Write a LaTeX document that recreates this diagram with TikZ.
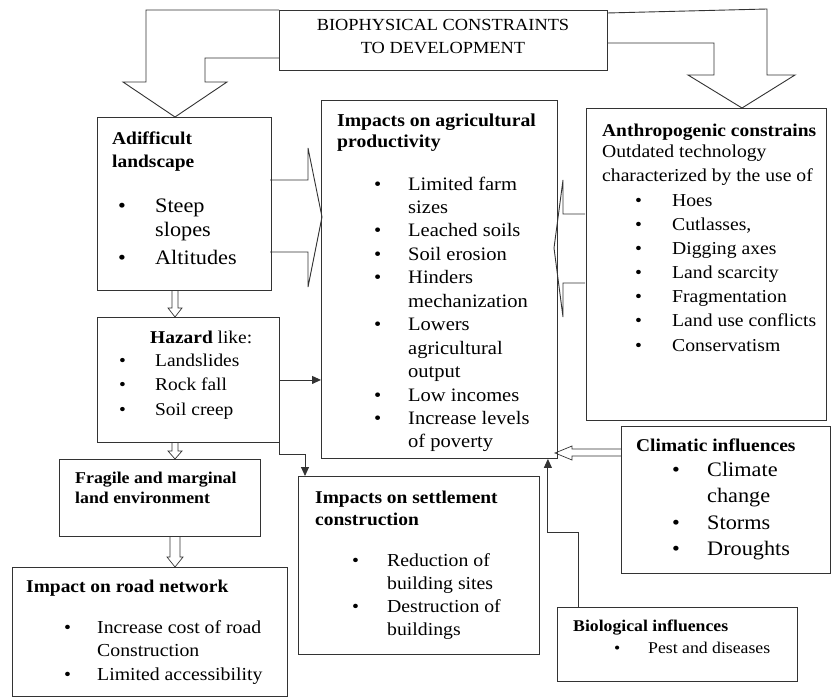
\documentclass[tikz,border=0pt]{standalone}
\usepackage{fontspec}
\setmainfont{Liberation Serif}[FakeStretch=1.08]
\usetikzlibrary{arrows.meta}
\tikzset{
  box/.style={draw=black!80, line width=0.9pt, anchor=north west, inner sep=0pt},
  blk/.style={draw=black!80, line width=0.9pt, fill=white, line join=miter},
  conn/.style={draw=black!80, line width=0.9pt, -{Triangle[length=9pt,width=8pt]}},
  txt/.style={inner sep=0pt, anchor=base west},
  reg/.style={font=\fontsize{#1}{#1}\selectfont},
}
\newcommand\bx[5]{\node[box, minimum width=#4pt, minimum height=#5pt] (#1) at (#2,#3) {};}
\begin{document}
\begin{tikzpicture}[x=1pt,y=-1pt]
\useasboundingbox (0,0) rectangle (833,698);

% ---- block arrows (drawn first, under the boxes)
\draw[blk] (279,10) -- (146,10) -- (146,82) -- (123,82) -- (175,117) -- (227,82) -- (205,82) -- (205,58) -- (279,58);
\draw[blk] (607,13) -- (767,9) -- (767,75) -- (795,75) -- (742,108) -- (688,75) -- (714,75) -- (714,43) -- (607,43);
\draw[blk] (270,180) -- (308,180) -- (308,148) -- (322,217) -- (308,287) -- (308,252) -- (270,252);
\draw[blk] (585,214) -- (563,214) -- (563,180) -- (554,248) -- (563,317) -- (563,283) -- (585,283);
% small hollow arrows
\draw[blk, line width=0.7pt] (172,290) -- (172,308) -- (168,308) -- (175,317) -- (182,308) -- (178,308) -- (178,290);
\draw[blk, line width=0.7pt] (172,442) -- (172,451) -- (168,451) -- (175,459) -- (182,451) -- (178,451) -- (178,442);
\draw[blk, line width=0.7pt] (170,536) -- (170,557) -- (167,557) -- (175,567) -- (183,557) -- (180,557) -- (180,536);
\draw[blk, line width=0.7pt] (621,449) -- (572,449) -- (572,446) -- (555,453) -- (572,460) -- (572,456) -- (621,456);

% ---- boxes
\bx{top}{279}{10}{328}{60}
\bx{land}{97}{117}{174}{173}
\bx{impacts}{321}{100}{236}{358}
\bx{anthro}{586}{108}{240}{312}
\bx{hazard}{97}{317}{182}{125}
\bx{fragile}{59}{459}{201}{77}
\bx{settle}{298}{476}{241}{178}
\bx{road}{12}{567}{275}{129}
\bx{climatic}{621}{426}{209}{147}
\bx{bio}{557}{607}{240}{74}

% ---- line connectors
\draw[conn] (hazard.east) -- (hazard.east -| impacts.west);
\draw[conn] (hazard.south east) -- ++(0,12) -| ([xshift=7pt]settle.north west);
\draw[conn] ([xshift=21pt]bio.north west) -- ++(0,-75) -| ([xshift=-10pt]impacts.south east);

% ---- texts
\node[inner sep=0pt, anchor=base, font=\fontsize{17}{23}\selectfont] (topT) at (443,31)
  {\begin{tabular}[t]{@{}c@{}}BIOPHYSICAL CONSTRAINTS\\TO DEVELOPMENT\end{tabular}};

\node[txt, font=\bfseries\fontsize{18}{23}\selectfont] (landT) at (112,145)
  {\begin{tabular}[t]{@{}l@{}}Adifficult\\landscape\end{tabular}};
\node[txt, font=\fontsize{20.6}{24.5}\selectfont] (landL) at (118,212)
  {\begin{tabular}[t]{@{}p{37pt}@{}l@{}}\textbullet&Steep\\&slopes\\[3pt]\textbullet&Altitudes\end{tabular}};

\node[txt, font=\fontsize{18}{24.5}\selectfont] (hazT) at (150,343) {{\bfseries Hazard} like:};
\node[txt, font=\fontsize{18}{24.5}\selectfont] (hazL) at (119,366)
  {\begin{tabular}[t]{@{}p{36pt}@{}l@{}}\textbullet&Landslides\\\textbullet&Rock fall\\\textbullet&Soil creep\end{tabular}};

\node[txt, font=\bfseries\fontsize{16.5}{20}\selectfont] (fragT) at (75,483)
  {\begin{tabular}[t]{@{}l@{}}Fragile and marginal\\land environment\end{tabular}};

\node[txt, font=\bfseries\fontsize{18}{23}\selectfont] (roadT) at (26,592) {Impact on road network};
\node[txt, font=\fontsize{18.3}{23}\selectfont] (roadL) at (64,633)
  {\begin{tabular}[t]{@{}p{33pt}@{}l@{}}\textbullet&Increase cost of road\\&Construction\\[1pt]\textbullet&Limited accessibility\end{tabular}};

\node[txt, font=\bfseries\fontsize{18.2}{21}\selectfont] (impT) at (337,127)
  {\begin{tabular}[t]{@{}l@{}}Impacts on agricultural\\productivity\end{tabular}};
\node[txt, font=\fontsize{19}{23.45}\selectfont] (impL) at (374,190)
  {\begin{tabular}[t]{@{}p{34pt}@{}l@{}}\textbullet&Limited farm\\&sizes\\\textbullet&Leached soils\\\textbullet&Soil erosion\\\textbullet&Hinders\\&mechanization\\\textbullet&Lowers\\&agricultural\\&output\\\textbullet&Low incomes\\\textbullet&Increase levels\\&of poverty\end{tabular}};

\node[txt, font=\bfseries\fontsize{18}{22}\selectfont] (setT) at (315,503)
  {\begin{tabular}[t]{@{}l@{}}Impacts on settlement\\construction\end{tabular}};
\node[txt, font=\fontsize{18.3}{23}\selectfont] (setL) at (352,566)
  {\begin{tabular}[t]{@{}p{35pt}@{}l@{}}\textbullet&Reduction of\\&building sites\\\textbullet&Destruction of\\&buildings\end{tabular}};

\node[txt, font=\bfseries\fontsize{18}{22}\selectfont] (antT) at (602,137) {Anthropogenic constrains};
\node[txt, font=\fontsize{18.2}{24}\selectfont] (antS) at (602,158)
  {\begin{tabular}[t]{@{}l@{}}Outdated technology\\characterized by the use of\end{tabular}};
\node[txt, font=\fontsize{18.2}{24.2}\selectfont] (antL) at (635,206)
  {\begin{tabular}[t]{@{}p{37pt}@{}l@{}}\textbullet&Hoes\\\textbullet&Cutlasses,\\\textbullet&Digging axes\\\textbullet&Land scarcity\\\textbullet&Fragmentation\\\textbullet&Land use conflicts\\\textbullet&Conservatism\end{tabular}};

\node[txt, font=\bfseries\fontsize{18}{22}\selectfont] (cliT) at (636,451) {Climatic influences};
\node[txt, font=\fontsize{20.6}{26}\selectfont] (cliL) at (672,476)
  {\begin{tabular}[t]{@{}p{35pt}@{}l@{}}\textbullet&Climate\\&change\\[1pt]\textbullet&Storms\\\textbullet&Droughts\end{tabular}};

\node[txt, font=\bfseries\fontsize{16.4}{20}\selectfont] (bioT) at (573,631) {Biological influences};
\node[txt, font=\fontsize{16.4}{20}\selectfont] (bioL) at (614,653)
  {\begin{tabular}[t]{@{}p{34pt}@{}l@{}}\textbullet&Pest and diseases\end{tabular}};
\end{tikzpicture}
\end{document}
